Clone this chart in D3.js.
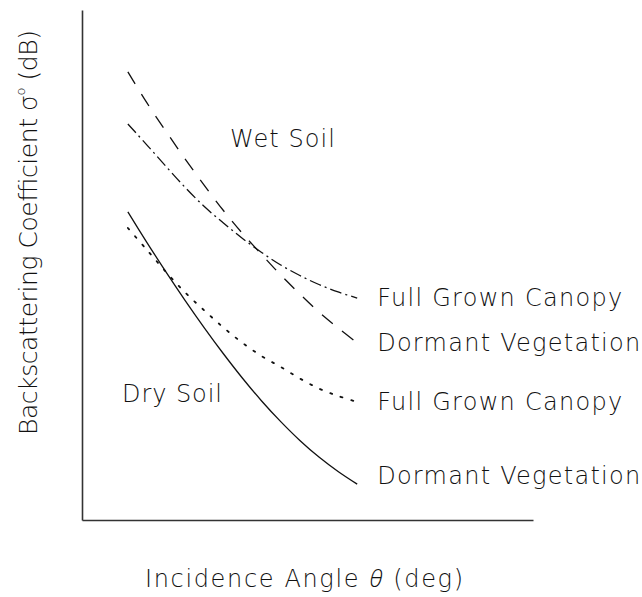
<!DOCTYPE html>
<html>
<head>
<meta charset="utf-8">
<script src="https://cdn.jsdelivr.net/npm/d3@7"></script>
<style>
  html, body { margin: 0; padding: 0; background: #fff; }
  svg text { font-family: "DejaVu Sans", "Liberation Sans", sans-serif; font-weight: 200; fill: #111; }
</style>
</head>
<body>
<div id="chart"></div>
<script>
// incidence angles (deg) shared by all curves
const angles = [10, 12.5, 15, 17.5, 20, 22.5, 25, 27.5, 30, 32.5, 35, 37.5, 40];

// backscattering coefficient (dB)
const wetDormant = [-4.25, -6.38, -8.34, -10.23, -12.04, -13.76, -15.34, -16.78, -18.19, -19.49, -20.73, -21.82, -22.85];
const wetCanopy = [-7.82, -9.27, -10.74, -12.18, -13.49, -14.62, -15.68, -16.64, -17.50, -18.22, -18.84, -19.35, -19.77];
const dryCanopy = [-14.96, -16.47, -17.98, -19.39, -20.62, -21.79, -22.85, -23.75, -24.50, -25.29, -25.98, -26.49, -26.90];
const dryDormant = [-13.86, -15.96, -17.99, -19.94, -21.81, -23.59, -25.27, -26.83, -28.25, -29.54, -30.68, -31.67, -32.54];

const seriesNames = ["Full Grown Canopy", "Dormant Vegetation", "Full Grown Canopy", "Dormant Vegetation"];
const seriesValues = [wetCanopy, wetDormant, dryCanopy, dryDormant];

const width = 642, height = 597;

const svg = d3.select("#chart")
  .append("svg")
  .attr("width", width)
  .attr("height", height);

// Echelles
const x = d3.scaleLinear().domain([4, 63]).range([82, 533]);
const y = d3.scaleLinear().domain([-35, 0]).range([520, 10]);

// Axes (no ticks, just the lines)
svg.append("g")
  .attr("transform", `translate(${x.range()[0]},0)`)
  .call(d3.axisLeft(y).ticks(0).tickSizeOuter(0))
  .call(g => g.select(".domain").attr("stroke", "#333").attr("stroke-width", 1.6));

svg.append("g")
  .attr("transform", `translate(0,${y.range()[0]})`)
  .call(d3.axisBottom(x).ticks(0).tickSizeOuter(0))
  .call(g => g.select(".domain").attr("stroke", "#333").attr("stroke-width", 1.6));

// Styles de ligne
const dashes = ["12,4,2,4", "14,12", "2,9", null];

const line = d3.line()
  .x((d, i) => x(angles[i]))
  .y(d => y(d))
  .curve(d3.curveCatmullRom);

seriesValues.forEach((vals, i) => {
  svg.append("path")
    .attr("d", line(vals))
    .attr("fill", "none")
    .attr("stroke", "#111")
    .attr("stroke-width", i === 2 ? 1.8 : 1.3)
    .attr("stroke-linecap", i === 2 ? "round" : "butt")
    .attr("stroke-dasharray", dashes[i]);
});

// Labels au bout des courbes
const labelDy = [8, 8, 8, 0];
const lastAngle = angles[angles.length - 1];
seriesValues.forEach((vals, i) => {
  svg.append("text")
    .attr("x", x(lastAngle) + 20)
    .attr("y", y(vals[vals.length - 1]) + labelDy[i])
    .attr("font-size", "24px")
    .attr("textLength", i % 2 === 0 ? 245 : 263)
    .attr("lengthAdjust", "spacing")
    .text(seriesNames[i]);
});

svg.append("text")
  .attr("x", 230).attr("y", 147)
  .attr("font-size", "24px")
  .attr("textLength", 105).attr("lengthAdjust", "spacing")
  .text("Wet Soil");

svg.append("text")
  .attr("x", 122).attr("y", 402)
  .attr("font-size", "24px")
  .attr("textLength", 100).attr("lengthAdjust", "spacing")
  .text("Dry Soil");

// Titre axe X
const xt = svg.append("text")
  .attr("x", 145).attr("y", 587)
  .attr("font-size", "24px")
  .attr("textLength", 318).attr("lengthAdjust", "spacing");
xt.append("tspan").text("Incidence Angle ");
xt.append("tspan")
  .style("font-family", "'Open Sans', 'Lato', sans-serif")
  .style("font-weight", "300")
  .attr("font-style", "italic").text("θ");
xt.append("tspan").text(" (deg)");

// Titre axe Y
const yt = svg.append("text")
  .attr("transform", "translate(37,435) rotate(-90)")
  .attr("font-size", "25px")
  .attr("textLength", 405).attr("lengthAdjust", "spacing");
yt.append("tspan").text("Backscattering Coefficient σ");
yt.append("tspan").attr("font-size", "13px").attr("dy", "-12").text("o");
yt.append("tspan").attr("dy", "12").text(" (dB)");
</script>
</body>
</html>
